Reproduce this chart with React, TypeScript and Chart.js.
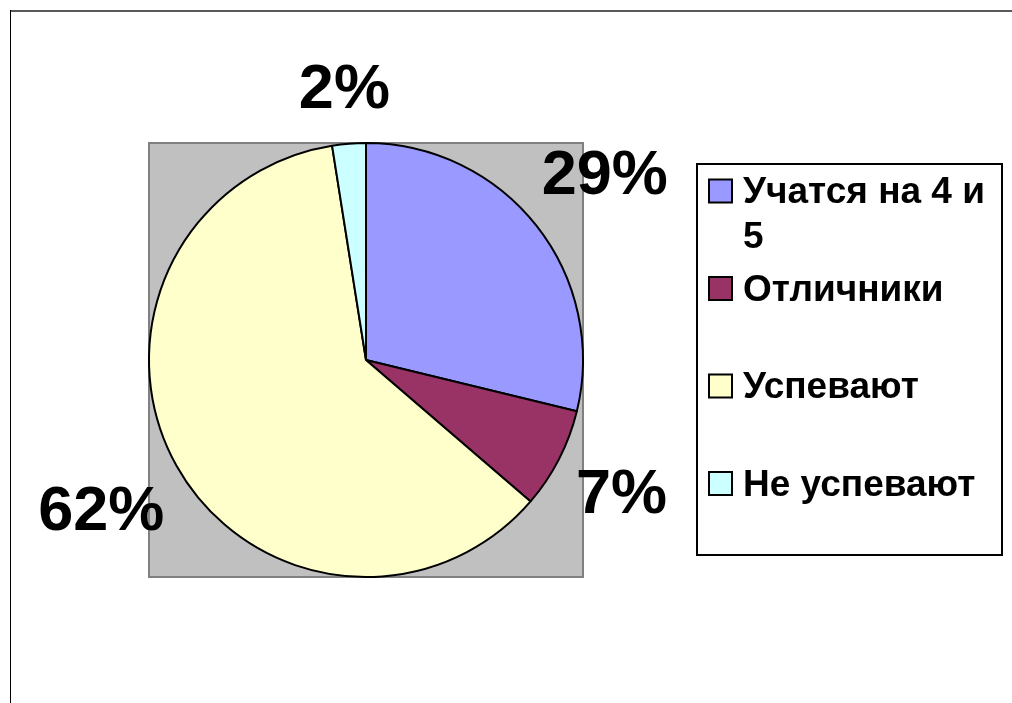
import React, { useEffect, useRef } from "react";
import { Chart, registerables } from "chart.js";

Chart.register(...registerables);

const categories = ["Учатся на 4 и 5", "Отличники", "Успевают", "Не успевают"];
const shares = [28.8, 7.5, 61.2, 2.5];
const percentLabels = ["29%", "7%", "62%", "2%"];
const sliceColors = ["#9999FF", "#993366", "#FFFFCC", "#CCFFFF"];

const FONT = '"Liberation Sans", Arial, sans-serif';

const framePlugin = {
  id: "frame",
  beforeDraw(chart: any) {
    const ctx = chart.ctx;
    const meta = chart.getDatasetMeta(0);
    const arc = meta.data[0];
    if (!arc) return;
    const p = arc.getProps(["x", "y", "outerRadius"], true);
    ctx.save();
    ctx.fillStyle = "#ffffff";
    ctx.fillRect(0, 0, chart.width, chart.height);
    ctx.fillStyle = "#595959";
    ctx.fillRect(10, 10, chart.width - 10, 2);
    ctx.fillStyle = "#000000";
    ctx.fillRect(10, 10, 1, chart.height - 10);
    const r = p.outerRadius;
    ctx.fillStyle = "#C0C0C0";
    ctx.fillRect(p.x - r, p.y - r, 2 * r, 2 * r);
    ctx.strokeStyle = "#808080";
    ctx.lineWidth = 2;
    ctx.strokeRect(p.x - r, p.y - r, 2 * r, 2 * r);
    ctx.restore();
  },
};

const labelPlugin = {
  id: "pctLabels",
  afterDatasetsDraw(chart: any) {
    const ctx = chart.ctx;
    const meta = chart.getDatasetMeta(0);
    ctx.save();
    ctx.font = `bold 63px ${FONT}`;
    ctx.fillStyle = "#000000";
    ctx.textAlign = "center";
    ctx.textBaseline = "alphabetic";
    meta.data.forEach((arc: any, i: number) => {
      const p = arc.getProps(["x", "y", "startAngle", "endAngle", "outerRadius"], true);
      const mid = (p.startAngle + p.endAngle) / 2;
      const dx = Math.cos(mid);
      const dy = Math.sin(mid);
      const text = percentLabels[i];
      const m = ctx.measureText(text);
      const w = m.actualBoundingBoxLeft + m.actualBoundingBoxRight;
      const h = m.actualBoundingBoxAscent;
      const d = p.outerRadius + 11 + (Math.abs(dx) * w) / 2 + Math.abs(dy) * h;
      const cx = p.x + dx * d;
      const cy = p.y + dy * d;
      ctx.fillText(text, cx, cy + h / 2);
    });
    ctx.restore();
  },
};

const legendPlugin = {
  id: "boxLegend",
  afterDraw(chart: any) {
    const ctx = chart.ctx;
    const boxL = 697, boxT = 164, boxR = 1002, boxB = 555;
    const swatchX = 709, swatchSize = 23;
    const textX = 743;
    const itemTop = boxT + 6.5;
    const itemStep = 97.5;
    const lineH = 45;
    const maxW = boxR - textX - 6;
    ctx.save();
    ctx.strokeStyle = "#000000";
    ctx.lineWidth = 2;
    ctx.strokeRect(boxL, boxT, boxR - boxL, boxB - boxT);
    ctx.font = `bold 37px ${FONT}`;
    ctx.textAlign = "left";
    ctx.textBaseline = "middle";
    const labels: string[] = chart.data.labels;
    const colors: string[] = chart.data.datasets[0].backgroundColor;
    labels.forEach((label, i) => {
      const words = label.split(" ");
      const lines: string[] = [];
      let cur = "";
      words.forEach((wd) => {
        const test = cur ? cur + " " + wd : wd;
        if (ctx.measureText(test).width > maxW && cur) {
          lines.push(cur);
          cur = wd;
        } else cur = test;
      });
      if (cur) lines.push(cur);
      const top = itemTop + i * itemStep;
      const firstCenter = top + lineH / 2;
      ctx.fillStyle = colors[i];
      ctx.fillRect(swatchX, firstCenter - 2 - swatchSize / 2, swatchSize, swatchSize);
      ctx.strokeStyle = "#000000";
      ctx.lineWidth = 2;
      ctx.strokeRect(swatchX, firstCenter - 2 - swatchSize / 2, swatchSize, swatchSize);
      ctx.fillStyle = "#000000";
      lines.forEach((ln, j) => {
        ctx.fillText(ln, textX, firstCenter + j * lineH);
      });
    });
    ctx.restore();
  },
};

export default function App() {
  const ref = useRef<HTMLCanvasElement | null>(null);
  useEffect(() => {
    document.body.style.margin = "0";
    if (!ref.current) return;
    const chart = new Chart(ref.current, {
      type: "pie",
      data: {
        labels: categories,
        datasets: [
          {
            data: shares,
            backgroundColor: sliceColors,
            borderColor: "#000000",
            borderWidth: 2,
          },
        ],
      },
      options: {
        responsive: false,
        animation: false,
        layout: { padding: { left: 148, top: 142, right: 428, bottom: 125 } },
        plugins: {
          legend: { display: false },
          tooltip: { enabled: false },
        },
      },
      plugins: [framePlugin, labelPlugin, legendPlugin],
    });
    return () => chart.destroy();
  }, []);
  return (
    <div style={{ position: "fixed", left: 0, top: 0, width: 1012, height: 703 }}>
      <canvas ref={ref} width={1012} height={703} style={{ display: "block" }} />
    </div>
  );
}
